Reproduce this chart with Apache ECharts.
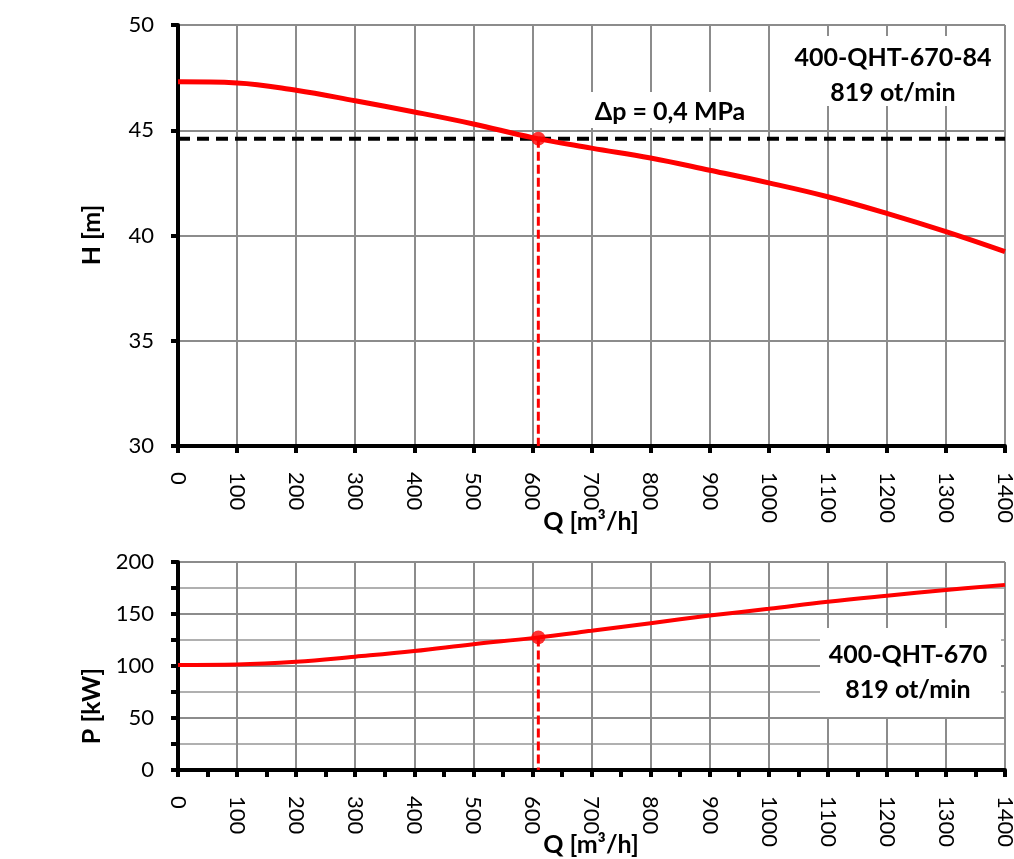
<!DOCTYPE html>
<html>
<head>
<meta charset="utf-8">
<script src="https://cdn.jsdelivr.net/npm/echarts@6/dist/echarts.min.js"></script>
<style>
  html, body { margin: 0; padding: 0; background: #fff; }
  #main { width: 1014px; height: 859px; }
</style>
</head>
<body>
<div id="main"></div>
<script>
// Q-H and Q-P curves
var qPoints = [0, 100, 200, 300, 400, 500, 600, 700, 800, 900, 1000, 1100, 1200, 1300, 1400];
var headH = [47.3, 47.25, 46.9, 46.4, 45.87, 45.3, 44.65, 44.15, 43.68, 43.1, 42.5, 41.84, 41.05, 40.18, 39.23];
var powerP = [101, 101.4, 104, 109, 114.4, 121, 126.8, 133.8, 141.2, 148.5, 155, 161.8, 167.6, 173, 178];
var opQ = 610;
var opH = 44.6;
var opP = 127.5;
var qTicks = [0, 1400, 100];
var hTicks = [30, 50, 5];
var pTicks = [0, 200, 50];

var FONT = 'Lato, "Liberation Sans", sans-serif';

function pairs(xs, ys) {
    return xs.map(function (x, i) { return [x, ys[i]]; });
}
function plain(v) { return String(v); }

var myChart = echarts.init(document.getElementById('main'));

var axisLine = { show: true, onZero: false, lineStyle: { color: '#000', width: 4 } };
var splitLine = { show: true, lineStyle: { color: '#8c8c8c', width: 2 } };
var tick = { show: true, length: 7, lineStyle: { color: '#000', width: 4 } };
var labelX = { rotate: -90, margin: 26, fontSize: 22, color: '#000', fontFamily: FONT, formatter: plain };
var labelY = { margin: 24, fontSize: 22, color: '#000', fontFamily: FONT, formatter: plain };

function note(text, x, y, rot) {
    return {
        type: 'text', x: x, y: y, rotation: rot || 0, z: 20,
        style: { text: text, align: 'center', verticalAlign: 'middle',
            font: 'bold 25px ' + FONT, lineHeight: 35, fill: '#000' }
    };
}

myChart.setOption({
    animation: false,
    grid: [
        { left: 178, top: 25, width: 827, height: 421, outerBoundsMode: 'none' },
        { left: 178, top: 562, width: 827, height: 208, outerBoundsMode: 'none' }
    ],
    xAxis: [{
        gridIndex: 0, type: 'value', min: qTicks[0], max: qTicks[1], interval: qTicks[2],
        axisLine: axisLine, axisTick: tick, axisLabel: labelX, splitLine: splitLine
    }, {
        gridIndex: 1, type: 'value', min: qTicks[0], max: qTicks[1], interval: qTicks[2],
        axisLine: axisLine, axisTick: tick,
        minorTick: { show: true, splitNumber: 2, length: 7, lineStyle: { color: '#000', width: 4 } },
        axisLabel: labelX, splitLine: splitLine
    }],
    yAxis: [{
        gridIndex: 0, type: 'value', min: hTicks[0], max: hTicks[1], interval: hTicks[2],
        axisLine: axisLine, axisTick: tick, axisLabel: labelY, splitLine: splitLine
    }, {
        gridIndex: 1, type: 'value', min: pTicks[0], max: pTicks[1], interval: pTicks[2],
        axisLine: axisLine, axisTick: tick,
        minorTick: { show: true, splitNumber: 2, length: 7, lineStyle: { color: '#000', width: 4 } },
        minorSplitLine: { show: true, lineStyle: { color: '#b0b0b0', width: 2 } },
        axisLabel: labelY, splitLine: splitLine
    }],
    graphic: [
        // axis names
        note('H [m]', 92, 235, Math.PI / 2),
        note('P [kW]', 92, 706, Math.PI / 2),
        note('Q [m³/h]', 591, 522),
        note('Q [m³/h]', 591, 845),
        // white boxes behind the notes
        { type: 'rect', z: 10, shape: { x: 578, y: 92, width: 190, height: 36 }, style: { fill: '#fff' } },
        { type: 'rect', z: 10, shape: { x: 778, y: 36, width: 224, height: 70 }, style: { fill: '#fff' } },
        { type: 'rect', z: 10, shape: { x: 820, y: 628, width: 181, height: 89 }, style: { fill: '#fff' } },
        note('Δp = 0,4 MPa', 670, 112),
        note('400-QHT-670-84\n819 ot/min', 893, 75),
        note('400-QHT-670\n819 ot/min', 908, 672)
    ],
    series: [{
        type: 'line', xAxisIndex: 0, yAxisIndex: 0, z: 5,
        data: [[qTicks[0], opH], [qTicks[1], opH]],
        symbol: 'none', lineStyle: { color: '#000', width: 4, type: [12, 7] }
    }, {
        type: 'line', xAxisIndex: 0, yAxisIndex: 0, z: 6,
        data: [[opQ, opH], [opQ, hTicks[0]]],
        symbol: 'none', lineStyle: { color: '#ff0000', width: 3, type: [9, 4] }
    }, {
        type: 'line', xAxisIndex: 0, yAxisIndex: 0, z: 7,
        data: pairs(qPoints, headH), smooth: 0.4,
        symbol: 'none', lineStyle: { color: '#ff0000', width: 5 }
    }, {
        type: 'scatter', xAxisIndex: 0, yAxisIndex: 0, z: 8,
        data: [[opQ, opH]], symbolSize: 14, itemStyle: { color: '#ff0000' }
    }, {
        type: 'line', xAxisIndex: 1, yAxisIndex: 1, z: 6,
        data: [[opQ, opP], [opQ, pTicks[0]]],
        symbol: 'none', lineStyle: { color: '#ff0000', width: 3, type: [9, 4] }
    }, {
        type: 'line', xAxisIndex: 1, yAxisIndex: 1, z: 7,
        data: pairs(qPoints, powerP), smooth: 0.4,
        symbol: 'none', lineStyle: { color: '#ff0000', width: 4 }
    }, {
        type: 'scatter', xAxisIndex: 1, yAxisIndex: 1, z: 8,
        data: [[opQ, opP]], symbolSize: 14, itemStyle: { color: '#ff0000' }
    }]
});
</script>
</body>
</html>
